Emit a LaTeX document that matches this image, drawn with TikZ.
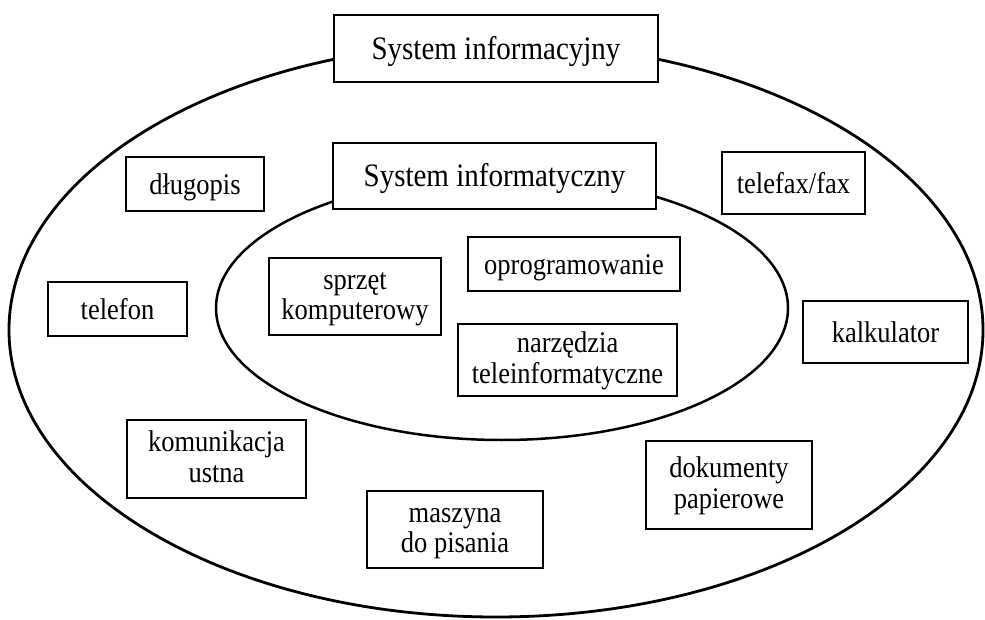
\documentclass[tikz,border=0pt]{standalone}
\usepackage{graphicx}
\usepackage{fontspec}
\setmainfont{Liberation Serif}
\newcommand{\tallt}[2][4pt]{\raisebox{-#1}[\height][\depth]{\scalebox{1}[1.13]{\begin{tabular}{@{}c@{}}#2\end{tabular}}}}
\begin{document}
\begin{tikzpicture}[x=1pt,y=-1pt,
  titlebox/.style={draw,fill=white,line width=2.8pt,inner sep=0pt,align=center,
    font=\fontsize{29}{29}\selectfont},
  itembox/.style={draw,fill=white,line width=1.3pt,inner sep=0pt,align=center,
    font=\fontsize{26.5}{27}\selectfont},
  ring/.style={draw,line width=2.8pt}]
\useasboundingbox (0,0) rectangle (985,620);
% ellipses
\draw[ring] (496,330) ellipse [x radius=487, y radius=287];
\draw[ring,line width=2.5pt] (502,308) ellipse [x radius=286, y radius=132];
% title boxes
\node[titlebox,minimum width=324pt,minimum height=67pt] (sinfo) at (496,48.5) {\tallt{System informacyjny}};
\node[titlebox,minimum width=323pt,minimum height=66pt] (sinfa) at (494.5,176) {\tallt{System informatyczny}};
% outer items
\node[itembox,minimum width=138pt,minimum height=54pt] (dlugopis) at (195,184) {\tallt{długopis}};
\node[itembox,minimum width=143pt,minimum height=62pt] (telefax) at (793.5,183) {\tallt{telefax/fax}};
\node[itembox,minimum width=139pt,minimum height=54pt] (telefon) at (117.5,309) {\tallt{telefon}};
\node[itembox,minimum width=165pt,minimum height=62pt] (kalk) at (885.5,332) {\tallt{kalkulator}};
\node[itembox,minimum width=179pt,minimum height=78pt] (komun) at (216.5,459) {\tallt[2pt]{komunikacja\\ustna}};
\node[itembox,minimum width=176pt,minimum height=77pt] (maszyna) at (455,529.5) {\tallt[2pt]{maszyna\\do pisania}};
\node[itembox,minimum width=166pt,minimum height=88pt] (dokum) at (729,485) {\tallt[2pt]{dokumenty\\papierowe}};
% inner items
\node[itembox,minimum width=172pt,minimum height=77pt] (sprzet) at (355,296.5) {\tallt[2pt]{sprzęt\\komputerowy}};
\node[itembox,minimum width=212pt,minimum height=54pt] (oprog) at (574,264) {\tallt{oprogramowanie}};
\node[itembox,minimum width=219pt,minimum height=72pt] (narz) at (567.5,360) {\tallt[2pt]{narzędzia\\teleinformatyczne}};
\end{tikzpicture}
\end{document}
